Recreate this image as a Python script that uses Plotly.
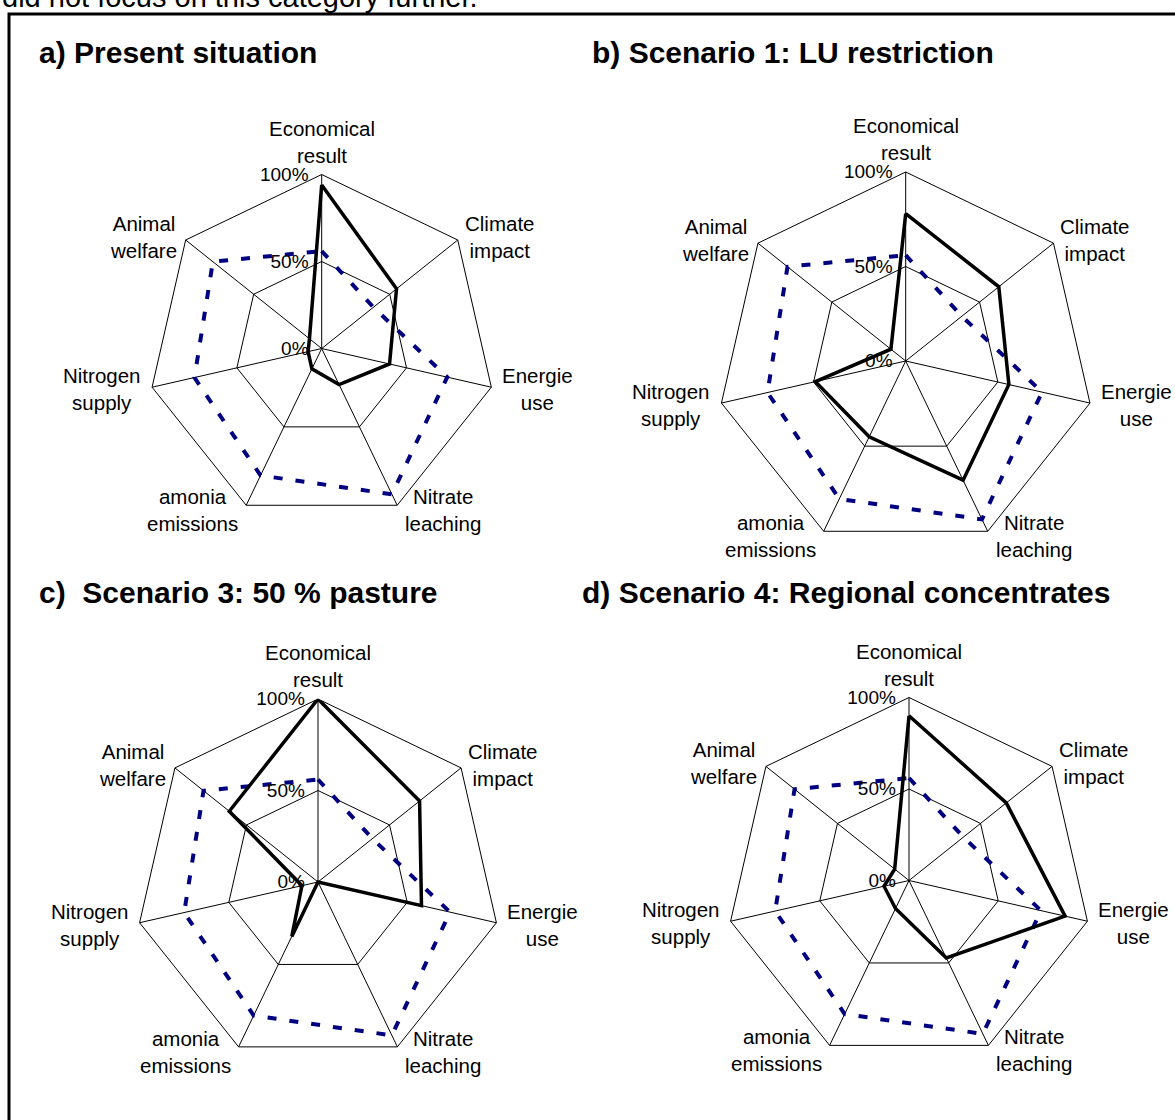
import math
import plotly.graph_objects as go

W, H = 1175, 1120

# ---- data ----
categories = ["Economical<br>result", "Climate<br>impact", "Energie<br>use",
              "Nitrate<br>leaching", "amonia<br>emissions", "Nitrogen<br>supply",
              "Animal<br>welfare"]
panel_titles = ["a) Present situation", "b) Scenario 1: LU restriction",
                "c)  Scenario 3: 50 % pasture", "d) Scenario 4: Regional concentrates"]
reference = [0.56, 0.38, 0.74, 0.93, 0.81, 0.75, 0.80]
present = [0.94, 0.55, 0.40, 0.23, 0.13, 0.08, 0.09]
scenario1 = [0.78, 0.63, 0.56, 0.70, 0.445, 0.49, 0.10]
scenario3 = [1.00, 0.71, 0.58, 0.00, 0.33, 0.09, 0.62]
scenario4 = [0.90, 0.68, 0.875, 0.47, 0.17, 0.14, 0.10]
scenarios = [present, scenario1, scenario3, scenario4]
tick_values = [0, 0.5, 1.0]
tick_labels = ["0%", "50%", "100%"]
top_text = "did not focus on this category further."

# ---- layout geometry (pixels): centre x, centre y, radius ----
panels = [(321.7, 348.5, 174), (905.7, 361, 189), (318, 882, 183), (909, 880.5, 183)]
title_pos = [(37, 53), (590, 53), (37, 592), (580, 592)]
# label anchor settings per spoke: xanchor, yanchor, xshift, yshift
label_cfg = [("center", "bottom", 0, 6), ("left", "middle", 5, 3), ("left", "middle", 9, -2),
             ("left", "middle", 6, -5), ("right", "middle", -6, -5), ("right", "middle", -9, -2),
             ("right", "middle", -7, 3)]

FONT = "Liberation Sans, Arial, sans-serif"
fig = go.Figure()
annotations = []
layout_polars = {}
n = len(categories)
for i, (cx, cy, R) in enumerate(panels):
    pname = "polar" if i == 0 else f"polar{i+1}"
    theta = categories + [categories[0]]
    fig.add_trace(go.Scatterpolar(
        r=reference + [reference[0]], theta=theta, mode="lines",
        line=dict(color="#000080", width=4, dash="9px,13px"), subplot=pname,
        showlegend=False, hoverinfo="skip"))
    vals = scenarios[i]
    fig.add_trace(go.Scatterpolar(
        r=vals + [vals[0]], theta=theta, mode="lines",
        line=dict(color="#000000", width=3.5), subplot=pname,
        showlegend=False, hoverinfo="skip"))
    layout_polars[pname] = dict(
        domain=dict(x=[(cx - R) / W, (cx + R) / W], y=[1 - (cy + R) / H, 1 - (cy - R) / H]),
        bgcolor="rgba(0,0,0,0)",
        gridshape="linear",
        angularaxis=dict(rotation=90, direction="clockwise", showticklabels=False,
                         ticks="", showline=True, linecolor="#000", linewidth=1,
                         showgrid=True, gridcolor="#000", gridwidth=1, layer="below traces"),
        radialaxis=dict(range=[0, 1], tickvals=tick_values, ticktext=tick_labels,
                        angle=90, side="counterclockwise", tickangle=90,
                        showline=False, showgrid=True, gridcolor="#000", gridwidth=1,
                        ticks="outside", ticklen=6, tickcolor="rgba(0,0,0,0)",
                        tickfont=dict(family=FONT, size=19, color="#000"),
                        layer="above traces"),
    )
    for k, cat in enumerate(categories):
        ang = math.radians(k * 360.0 / n)
        vx = cx + R * math.sin(ang)
        vy = cy - R * math.cos(ang)
        xa, ya, xs, ys = label_cfg[k]
        annotations.append(dict(
            x=vx / W, y=1 - vy / H, xref="paper", yref="paper", text=cat,
            showarrow=False, xanchor=xa, yanchor=ya, xshift=xs, yshift=ys,
            align="center", font=dict(family=FONT, size=20.5, color="#000")))
    tx, ty = title_pos[i]
    annotations.append(dict(
        x=tx / W, y=1 - ty / H, xref="paper", yref="paper",
        text="<b>" + panel_titles[i] + "</b>", showarrow=False,
        xanchor="left", yanchor="middle", align="left",
        font=dict(family=FONT, size=30, color="#000")))

annotations.append(dict(
    x=0 / W, y=1 - 15 / H, xref="paper", yref="paper", text=top_text,
    showarrow=False, xanchor="left", yanchor="bottom", align="left",
    font=dict(family=FONT, size=29, color="#000")))

fig.update_layout(
    width=W, height=H, margin=dict(l=0, r=0, t=0, b=0),
    paper_bgcolor="white", plot_bgcolor="white",
    showlegend=False, annotations=annotations,
    shapes=[dict(type="rect", xref="paper", yref="paper",
                 x0=9 / W, x1=1.02, y0=-0.02, y1=1 - 14 / H,
                 line=dict(color="#000", width=3), fillcolor="rgba(0,0,0,0)",
                 layer="below")],
    **layout_polars,
)
fig.write_html("out.html", config={"displayModeBar": False},
               post_script="document.body.style.margin='0';document.body.style.overflow='hidden';")
